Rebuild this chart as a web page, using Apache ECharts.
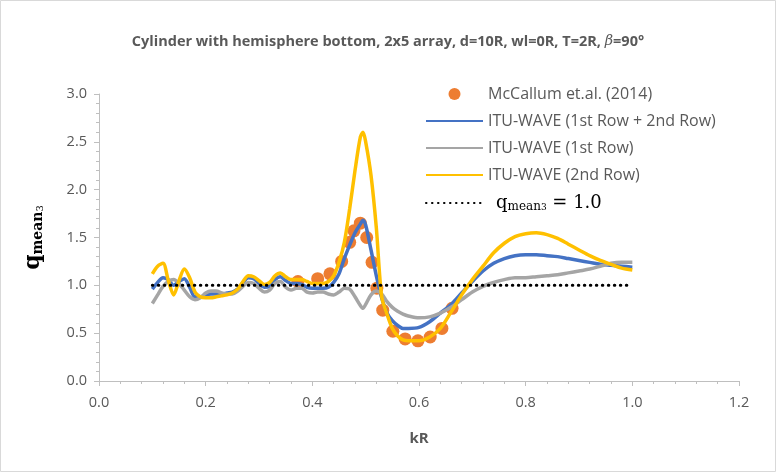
<!DOCTYPE html>
<html><head><meta charset="utf-8">
<script src="https://cdn.jsdelivr.net/npm/echarts@6/dist/echarts.min.js"></script>
<style>html,body{margin:0;padding:0;background:#fff}#c{width:776px;height:472px}</style>
</head><body><div id="c"></div>
<script>
var kR = [0.10,0.11,0.12,0.13,0.14,0.15,0.16,0.17,0.18,0.19,0.20,0.21,0.22,0.23,0.24,0.25,0.26,0.27,0.28,0.29,0.30,0.31,0.32,0.33,0.34,0.35,0.36,0.37,0.38,0.39,0.40,0.41,0.42,0.43,0.44,0.45,0.46,0.47,0.48,0.49,0.495,0.50,0.51,0.52,0.53,0.54,0.55,0.56,0.57,0.58,0.60,0.62,0.64,0.66,0.68,0.70,0.72,0.74,0.76,0.78,0.80,0.82,0.84,0.86,0.88,0.90,0.92,0.94,0.96,0.98,1.00];
var rowBoth = [0.96,1.03,1.08,1.06,1.00,1.04,1.07,0.98,0.88,0.88,0.90,0.91,0.91,0.91,0.92,0.93,0.96,1.03,1.08,1.07,1.02,0.98,0.99,1.06,1.09,1.05,1.02,1.02,1.01,0.98,0.97,0.97,0.97,0.98,1.03,1.12,1.28,1.42,1.55,1.64,1.68,1.63,1.37,1.10,0.87,0.71,0.63,0.58,0.55,0.55,0.56,0.62,0.71,0.80,0.92,1.04,1.15,1.23,1.28,1.31,1.32,1.32,1.31,1.30,1.28,1.26,1.24,1.22,1.21,1.20,1.19];
var row1 = [0.81,0.90,0.99,1.04,1.06,1.02,0.95,0.88,0.85,0.87,0.92,0.94,0.94,0.92,0.91,0.91,0.94,0.99,1.03,1.02,0.97,0.93,0.95,1.02,1.04,0.98,0.95,0.97,0.97,0.93,0.92,0.93,0.93,0.91,0.90,0.93,0.97,0.96,0.88,0.79,0.76,0.80,0.90,0.94,0.91,0.83,0.77,0.73,0.70,0.68,0.66,0.67,0.71,0.77,0.85,0.93,0.99,1.03,1.06,1.08,1.08,1.09,1.10,1.11,1.13,1.15,1.17,1.20,1.23,1.24,1.24];
var row2 = [1.12,1.20,1.23,1.05,0.90,1.05,1.17,1.08,0.93,0.88,0.87,0.87,0.88,0.89,0.90,0.92,0.96,1.04,1.10,1.09,1.05,1.01,1.03,1.10,1.13,1.09,1.06,1.06,1.06,1.04,1.02,1.02,1.02,1.04,1.10,1.24,1.45,1.80,2.20,2.55,2.60,2.50,2.15,1.60,0.88,0.70,0.55,0.47,0.43,0.42,0.42,0.46,0.55,0.72,0.90,1.06,1.20,1.34,1.44,1.51,1.54,1.55,1.53,1.49,1.43,1.37,1.31,1.26,1.22,1.18,1.16];
var refX = [0.373,0.41,0.433,0.455,0.47,0.478,0.49,0.502,0.512,0.521,0.532,0.551,0.574,0.598,0.621,0.643,0.662];
var refY = [1.04,1.07,1.12,1.25,1.45,1.57,1.65,1.50,1.24,0.97,0.74,0.52,0.44,0.42,0.46,0.55,0.76];
var lineX = [0.1, 1.0];
var lineY = [1.0, 1.0];
var xTicks = [0.0,0.2,0.4,0.6,0.8,1.0,1.2];
var yTicks = [0.0,0.5,1.0,1.5,2.0,2.5,3.0];

function zip(a,b){return a.map(function(v,i){return [v,b[i]];});}
var gray='#595959', axisC='#bfbfbf', font='Open Sans';
var chart = echarts.init(document.getElementById('c'));
chart.setOption({
  animation:false,
  backgroundColor:'#fff',
  graphic:[{type:'rect',shape:{x:0.5,y:0.5,width:775,height:471},style:{fill:'none',stroke:'#d9d9d9',lineWidth:1},silent:true}],
  title:{text:'Cylinder with hemisphere bottom, 2x5 array, d=10R, wl=0R, T=2R, {b|β}=90°',left:'center',top:29,
    textStyle:{fontFamily:font,fontSize:14.5,fontWeight:'bold',color:gray,rich:{b:{fontFamily:'DejaVu Serif',fontStyle:'italic',fontSize:14.5,fontWeight:'normal',color:gray}}}},
  grid:{left:99,right:37,top:94,bottom:91,containLabel:false},
  legend:{orient:'vertical',left:425,top:86,padding:0,itemWidth:57,itemHeight:12,itemGap:11,
    data:[{name:'ref'},{name:'both',itemStyle:{opacity:0}},{name:'row1',itemStyle:{opacity:0}},{name:'row2',itemStyle:{opacity:0}},{name:'one',itemStyle:{opacity:0}}],
    formatter:function(n){return {ref:'McCallum et.al. (2014)',both:'ITU-WAVE (1st Row + 2nd Row)',row1:'ITU-WAVE (1st Row)',row2:'ITU-WAVE (2nd Row)',one:'{q|q}{m|mean}{s|3}{e| = 1.0}'}[n];},
    textStyle:{fontFamily:font,fontSize:16,color:gray,padding:[0,0,0,0],
      rich:{q:{fontFamily:'DejaVu Serif',fontSize:18,color:'#000',padding:[0,0,0,8]},m:{fontFamily:'DejaVu Serif',fontSize:12,color:'#000',verticalAlign:'bottom',padding:[6,0,0,0]},s:{fontFamily:'DejaVu Serif',fontSize:9,color:'#000',verticalAlign:'bottom',padding:[10,0,0,0]},e:{fontFamily:'DejaVu Serif',fontSize:18,color:'#000'}}}},
  xAxis:{type:'value',min:0,max:1.2,interval:0.2,
    name:'kR',nameLocation:'middle',nameGap:50,nameTextStyle:{fontFamily:font,fontSize:15,fontWeight:'bold',color:gray},
    axisLine:{show:true,lineStyle:{color:axisC,width:1}},
    axisTick:{show:true,length:5,lineStyle:{color:axisC}},
    minorTick:{show:true,splitNumber:5,length:3,lineStyle:{color:axisC}},
    splitLine:{show:false},
    axisLabel:{fontFamily:font,fontSize:14.5,color:gray,margin:14,formatter:function(v){return v.toFixed(1);}}},
  yAxis:{type:'value',min:0,max:3,interval:0.5,
    name:'{q|q}{m|mean}{s|3}',nameLocation:'middle',nameGap:54,nameRotate:90,
    nameTextStyle:{rich:{q:{fontFamily:'DejaVu Serif',fontSize:22,fontWeight:'bold',color:'#000'},m:{fontFamily:'DejaVu Serif',fontSize:14,fontWeight:'bold',color:'#000',verticalAlign:'bottom',padding:[8,0,0,0]},s:{fontFamily:'DejaVu Serif',fontSize:10,color:'#000',verticalAlign:'bottom',padding:[14,0,0,0]}}},
    axisLine:{show:true,lineStyle:{color:axisC,width:1}},
    axisTick:{show:true,length:5,lineStyle:{color:axisC}},
    minorTick:{show:true,splitNumber:5,length:3,lineStyle:{color:axisC}},
    splitLine:{show:false},
    axisLabel:{fontFamily:font,fontSize:14.5,color:gray,margin:12,formatter:function(v){return v.toFixed(1);}}},
  series:[
    {name:'ref',type:'scatter',data:zip(refX,refY),symbol:'circle',symbolSize:13,itemStyle:{color:'#ED7D31',opacity:1},z:2},
    {name:'both',type:'line',data:zip(kR,rowBoth),showSymbol:false,symbol:'none',smooth:0.3,lineStyle:{color:'#4472C4',width:3.5},itemStyle:{color:'#4472C4'},z:3},
    {name:'row1',type:'line',data:zip(kR,row1),showSymbol:false,symbol:'none',smooth:0.3,lineStyle:{color:'#A5A5A5',width:3.5},itemStyle:{color:'#A5A5A5'},z:3},
    {name:'row2',type:'line',data:zip(kR,row2),showSymbol:false,symbol:'none',smooth:0.3,lineStyle:{color:'#FFC000',width:3.5},itemStyle:{color:'#FFC000'},z:4},
    {name:'one',type:'line',data:zip(lineX,lineY),showSymbol:false,symbol:'none',lineStyle:{color:'#000',width:3,type:[0.5,5.5],cap:'round'},itemStyle:{color:'#000'},z:5}
  ]
});
</script></body></html>
